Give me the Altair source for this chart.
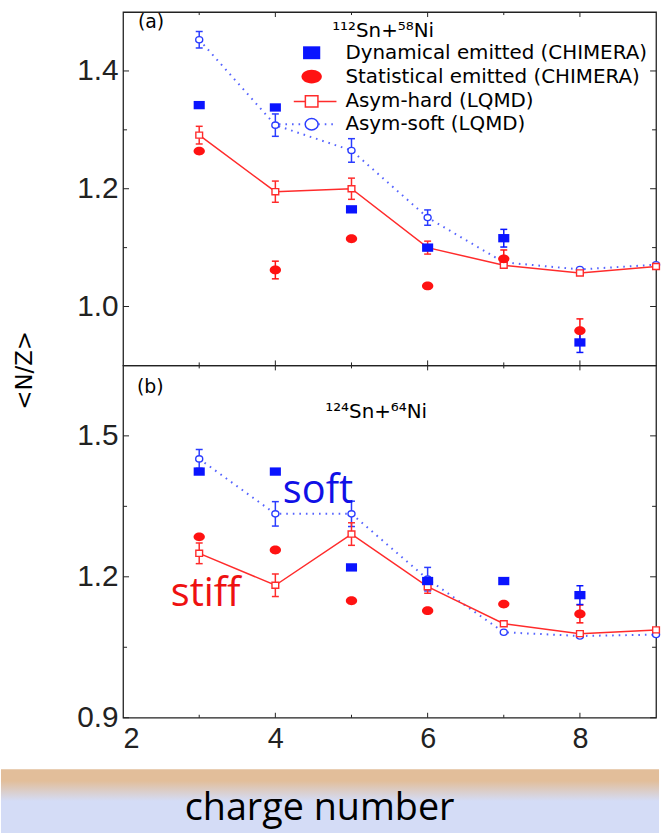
import altair as alt
import pandas as pd

# ---- data -------------------------------------------------------------
z_exp = [3, 4, 5, 6, 7, 8]
z_mod = [3, 4, 5, 6, 7, 8, 9]

# (a) 112Sn + 58Ni
a_dyn = [1.342, 1.338, 1.165, 1.100, 1.116, 0.939]
a_dyn_err = [0, 0, 0, 0, 0.015, 0.017]
a_stat = [1.264, 1.062, 1.115, 1.035, 1.081, 0.959]
a_stat_err = [0, 0.015, 0, 0, 0.015, 0.020]
a_hard = [1.291, 1.195, 1.200, 1.100, 1.070, 1.057, 1.068]
a_hard_err = [0.015, 0.018, 0.018, 0.011, 0, 0, 0]
a_soft = [1.453, 1.308, 1.265, 1.151, 1.075, 1.063, 1.071]
a_soft_err = [0.014, 0.019, 0.020, 0.013, 0, 0, 0]

# (b) 124Sn + 64Ni
b_dyn = [1.424, 1.424, 1.220, 1.191, 1.191, 1.161]
b_dyn_err = [0, 0, 0, 0, 0, 0.020]
b_stat = [1.285, 1.257, 1.149, 1.128, 1.142, 1.121]
b_stat_err = [0, 0, 0, 0, 0, 0.019]
b_hard = [1.250, 1.182, 1.291, 1.179, 1.100, 1.079, 1.087]
b_hard_err = [0.022, 0.024, 0.024, 0.014, 0, 0, 0]
b_soft = [1.451, 1.334, 1.334, 1.195, 1.082, 1.074, 1.077]
b_soft_err = [0.020, 0.026, 0.027, 0.025, 0, 0, 0]

# axis ticks
x_labels = [2, 4, 6, 8]
x_major = [4, 6, 8]
x_minor = [3, 5, 7]
a_ylabels = [1.0, 1.2, 1.4]
a_yminor = [1.1, 1.3]
b_ylabels = [0.9, 1.2, 1.5]
b_yminor = [1.05, 1.35]

legend_labels = [
    "Dynamical emitted (CHIMERA)",
    "Statistical emitted (CHIMERA)",
    "Asym-hard (LQMD)",
    "Asym-soft (LQMD)",
]

# ---- styling ------------------------------------------------------------
FONT = "DejaVu Sans"
AXFONT = "Liberation Sans"
FONT2 = "Open Sans"
W = 537
HA = 356
HB = 355
BLUE = "#0a14ff"
RED = "#ff1212"
SOFT_C = "#2a3cff"
HARD_C = "#ff2b2b"
AXC = "#222222"

RECT = "M-1,-0.75L1,-0.75L1,0.75L-1,0.75Z"
ELL = "M-1,0A1,0.78 0 1,0 1,0A1,0.78 0 1,0 -1,0Z"
RECT_O = "M-1,-0.9L1,-0.9L1,0.9L-1,0.9Z"
ELL_O = "M-1,0A1,0.88 0 1,0 1,0A1,0.88 0 1,0 -1,0Z"

xs = alt.Scale(domain=[2, 9], nice=False, zero=False)
one = pd.DataFrame({"k": [0]})


def label(text, x, y, size=20, color="black", font=FONT, align="left",
          angle=0, baseline="middle"):
    return alt.Chart(one).mark_text(
        text=text, font=font, fontSize=size, color=color, align=align,
        baseline=baseline, angle=angle
    ).encode(x=alt.value(x), y=alt.value(y))


def panel(dyn, dyn_err, stat, stat_err, hard, hard_err, soft, soft_err,
          ydom, ylabels, yminor, height, show_x):
    exp = pd.DataFrame({"z": z_exp, "dyn": dyn, "dyn_err": dyn_err,
                        "stat": stat, "stat_err": stat_err})
    mod = pd.DataFrame({"z": z_mod, "hard": hard, "hard_err": hard_err,
                        "soft": soft, "soft_err": soft_err})
    ys = alt.Scale(domain=ydom, nice=False, zero=False)
    yaxis = alt.Axis(values=ylabels, format=".1f", ticks=False, tickSize=0,
                     domain=False, grid=False, labelFont=AXFONT, labelFontSize=30,
                     labelColor=AXC, labelPadding=5, title=None)
    if show_x:
        xaxis = alt.Axis(values=x_labels, format="d", ticks=False, tickSize=0,
                         domain=False, grid=False, labelFont=AXFONT,
                         labelFontSize=29, labelColor=AXC, labelPadding=7,
                         title=None)
    else:
        xaxis = None

    def X(f):
        return alt.X(f"{f}:Q", scale=xs, axis=xaxis)

    def Y(f):
        return alt.Y(f"{f}:Q", scale=ys, axis=yaxis)

    layers = []
    # frame ticks (inward)
    yt_major = pd.DataFrame({"v": ylabels})
    yt_minor = pd.DataFrame({"v": yminor})
    for df, ln in ((yt_major, 6), (yt_minor, 4)):
        layers.append(alt.Chart(df).mark_rule(color=AXC, strokeWidth=1).encode(
            y=Y("v"), x=alt.value(0), x2=alt.value(ln)))
        layers.append(alt.Chart(df).mark_rule(color=AXC, strokeWidth=1).encode(
            y=Y("v"), x=alt.value(W - ln), x2=alt.value(W)))
    xt_major = pd.DataFrame({"v": x_major})
    xt_minor = pd.DataFrame({"v": x_minor})
    for df, ln in ((xt_major, 5), (xt_minor, 3)):
        layers.append(alt.Chart(df).mark_rule(color=AXC, strokeWidth=1).encode(
            x=X("v"), y=alt.value(0), y2=alt.value(ln)))
        layers.append(alt.Chart(df).mark_rule(color=AXC, strokeWidth=1).encode(
            x=X("v"), y=alt.value(height - ln), y2=alt.value(height)))

    # model curves
    layers.append(alt.Chart(mod).mark_line(
        color=SOFT_C, strokeWidth=2, strokeDash=[1.6, 5], opacity=0.8
    ).encode(x=X("z"), y=Y("soft")))
    layers.append(alt.Chart(mod).mark_line(
        color=HARD_C, strokeWidth=1.5).encode(x=X("z"), y=Y("hard")))

    # error bars
    def errbars(df, val, err, color):
        base = alt.Chart(df).transform_filter(f"datum.{err} > 0").transform_calculate(
            lo=f"datum.{val} - datum.{err}", hi=f"datum.{val} + datum.{err}")
        return [
            base.mark_rule(color=color, strokeWidth=1.5).encode(
                x=X("z"), y=Y("lo"), y2="hi:Q"),
            base.mark_tick(color=color, orient="horizontal", size=7,
                           thickness=1.5, opacity=1).encode(x=X("z"), y=Y("lo")),
            base.mark_tick(color=color, orient="horizontal", size=7,
                           thickness=1.5, opacity=1).encode(x=X("z"), y=Y("hi")),
        ]

    layers += errbars(mod, "soft", "soft_err", SOFT_C)
    layers += errbars(mod, "hard", "hard_err", HARD_C)
    layers += errbars(exp, "stat", "stat_err", RED)
    layers += errbars(exp, "dyn", "dyn_err", BLUE)

    # markers
    layers.append(alt.Chart(mod).mark_point(
        shape=ELL_O, size=50, filled=True, fill="white", stroke=SOFT_C,
        strokeWidth=1.4, opacity=1).encode(x=X("z"), y=Y("soft")))
    layers.append(alt.Chart(mod).mark_point(
        shape=RECT_O, size=46, filled=True, fill="white", stroke=HARD_C,
        strokeWidth=1.4, opacity=1).encode(x=X("z"), y=Y("hard")))
    layers.append(alt.Chart(exp).mark_point(
        shape=ELL, size=130, filled=True, color=RED, opacity=1
    ).encode(x=X("z"), y=Y("stat")))
    layers.append(alt.Chart(exp).mark_point(
        shape=RECT, size=125, filled=True, color=BLUE, opacity=1
    ).encode(x=X("z"), y=Y("dyn")))
    return layers


# ---- panel (a) -----------------------------------------------------------
la = panel(a_dyn, a_dyn_err, a_stat, a_stat_err, a_hard, a_hard_err,
           a_soft, a_soft_err, [0.9, 1.5], a_ylabels, a_yminor, HA, False)

leg_x, txt_x = 190, 224
leg_y = [41, 65, 90, 113]
la += [
    label("(a)", 15, 10, size=19),
    label("¹¹²Sn+⁵⁸Ni", 262, 19, size=20, align="center"),
    alt.Chart(one).mark_point(shape=RECT, size=300, filled=True, color=BLUE,
                              opacity=1).encode(x=alt.value(leg_x), y=alt.value(leg_y[0])),
    alt.Chart(one).mark_point(shape="M-1,0A1,0.68 0 1,0 1,0A1,0.68 0 1,0 -1,0Z",
                              size=420, filled=True, color=RED,
                              opacity=1).encode(x=alt.value(leg_x), y=alt.value(leg_y[1])),
    alt.Chart(one).mark_rule(color=HARD_C, strokeWidth=1.5).encode(
        x=alt.value(leg_x - 18), x2=alt.value(leg_x + 25), y=alt.value(leg_y[2])),
    alt.Chart(one).mark_point(shape=RECT_O, size=160, filled=True, fill="white",
                              stroke=HARD_C, strokeWidth=1.5,
                              opacity=1).encode(x=alt.value(leg_x), y=alt.value(leg_y[2])),
    alt.Chart(one).mark_rule(color=SOFT_C, strokeWidth=2, strokeDash=[1.6, 5],
                             opacity=0.8).encode(
        x=alt.value(leg_x - 33), x2=alt.value(leg_x + 25), y=alt.value(leg_y[3])),
    alt.Chart(one).mark_point(shape=ELL_O, size=170, filled=True, fill="white",
                              stroke=SOFT_C, strokeWidth=1.5,
                              opacity=1).encode(x=alt.value(leg_x), y=alt.value(leg_y[3])),
]
for t, yy in zip(legend_labels, leg_y):
    la.append(label(t, txt_x, yy, size=20))

chart_a = alt.layer(*la).properties(width=W, height=HA)

# ---- panel (b) -----------------------------------------------------------
lb = panel(b_dyn, b_dyn_err, b_stat, b_stat_err, b_hard, b_hard_err,
           b_soft, b_soft_err, [0.9, 1.65], b_ylabels, b_yminor, HB, True)

band = alt.Chart(one).mark_rect(
    color=alt.Gradient(
        gradient="linear", x1=0, x2=0, y1=0, y2=1,
        stops=[
            alt.GradientStop(color="#e2be9a", offset=0),
            alt.GradientStop(color="#e2be9a", offset=0.18),
            alt.GradientStop(color="#d4dcf6", offset=0.5),
            alt.GradientStop(color="#d4dcf6", offset=1),
        ],
    )
).encode(x=alt.value(-123), x2=alt.value(540), y=alt.value(HB + 52),
         y2=alt.value(HB + 116))

lb = [band] + lb + [
    label("(b)", 14, 22, size=19),
    label("¹²⁴Sn+⁶⁴Ni", 255, 47, size=20, align="center"),
    label("soft", 161, 127, size=40, color="#1010e6", font=FONT2),
    label("stiff", 48, 230, size=40, color="#ee1111", font=FONT2),
    label("<N/Z>", -99, 5, size=23, angle=270, align="center"),
    label("charge number", 198, HB + 103, size=38, font=FONT2, align="center",
          baseline="alphabetic"),
]

chart_b = alt.layer(*lb).properties(width=W, height=HB)

chart = alt.vconcat(chart_a, chart_b, spacing=0, bounds="flush").resolve_scale(
    y="independent"
).properties(
    padding={"left": 0, "top": 7, "right": 0, "bottom": 0},
    background="white",
).configure_view(
    stroke=AXC, strokeWidth=1.3
)

chart.save("out.html", embed_options={"renderer": "svg", "actions": False})
